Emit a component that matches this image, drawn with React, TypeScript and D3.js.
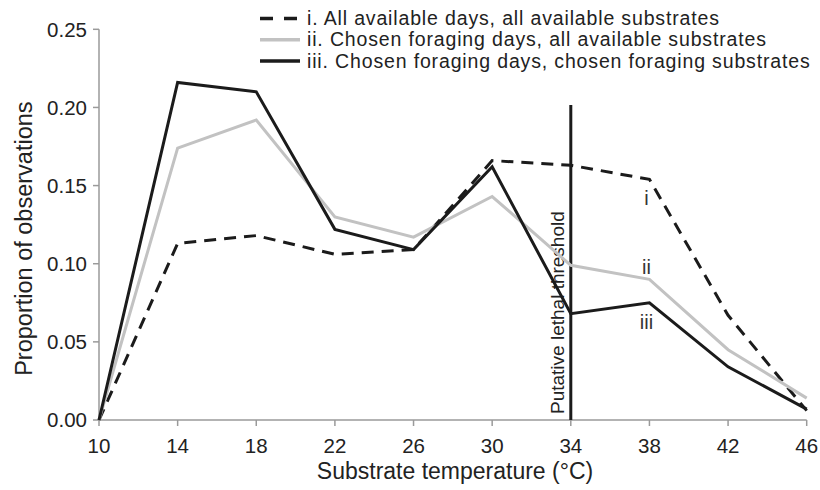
import React from "react";
import * as d3 from "d3";

const temps = [10, 14, 18, 22, 26, 30, 34, 38, 42, 46];
const seriesI = [0, 0.113, 0.118, 0.106, 0.109, 0.166, 0.163, 0.154, 0.067, 0.006];
const seriesII = [0, 0.174, 0.192, 0.130, 0.117, 0.143, 0.099, 0.090, 0.045, 0.014];
const seriesIII = [0, 0.216, 0.21, 0.122, 0.109, 0.162, 0.068, 0.075, 0.034, 0.007];
const yTicks = [0, 0.05, 0.1, 0.15, 0.2, 0.25];
const xTicks = [10, 14, 18, 22, 26, 30, 34, 38, 42, 46];
const legendLabels = [
  "i. All available days, all available substrates",
  "ii. Chosen foraging days, all available substrates",
  "iii. Chosen foraging days, chosen foraging substrates",
];
const endLabels = ["i", "ii", "iii"];
const threshold = 34;
const thresholdLabel = "Putative lethal threshold";

const W = 820;
const H = 490;
const FONT = "'Liberation Sans', Arial, Helvetica, sans-serif";
const AXIS = "#9a9a9a";
const BLACK = "#1b1b1b";
const GREY = "#c2c2c2";

export default function App() {
  const x = d3.scaleLinear().domain([10, 46]).range([99, 806.7]);
  const y = d3.scaleLinear().domain([0, 0.25]).range([420, 29.3]);
  const line = d3
    .line<number>()
    .x((_, i) => x(temps[i]))
    .y((d) => y(d));

  const styles = [
    { data: seriesI, stroke: BLACK, dash: "12,8" },
    { data: seriesII, stroke: GREY, dash: undefined },
    { data: seriesIII, stroke: BLACK, dash: undefined },
  ];

  const labelPos = [
    { v: seriesI[7], dy: 26 },
    { v: seriesII[7], dy: -5 },
    { v: seriesIII[7], dy: 26 },
  ];

  const legendLineY = [18.5, 39.8, 61.1];
  const legendTextY = [25, 46.3, 67.6];

  return (
    <svg
      width={W}
      height={H}
      style={{ position: "absolute", left: 0, top: 0, background: "#fff" }}
      fontFamily={FONT}
    >
      {/* axes */}
      <line x1={x(10)} x2={x(46)} y1={y(0)} y2={y(0)} stroke={AXIS} strokeWidth={1.5} />
      <line x1={x(10)} x2={x(10)} y1={y(0)} y2={y(0.25)} stroke={AXIS} strokeWidth={1.5} />
      {yTicks.map((t) => (
        <g key={"y" + t}>
          <line x1={x(10) - 6} x2={x(10)} y1={y(t)} y2={y(t)} stroke={AXIS} strokeWidth={1.5} />
          <text x={x(10) - 12} y={y(t)} dy="0.36em" textAnchor="end" fontSize={20.5} fill="#222">
            {t.toFixed(2)}
          </text>
        </g>
      ))}
      {xTicks.map((t) => (
        <g key={"x" + t}>
          <line x1={x(t)} x2={x(t)} y1={y(0)} y2={y(0) + 6} stroke={AXIS} strokeWidth={1.5} />
          <text x={x(t)} y={y(0) + 33} textAnchor="middle" fontSize={20.5} fill="#222">
            {t}
          </text>
        </g>
      ))}
      <text x={455} y={479} textAnchor="middle" fontSize={23} fill="#222">
        Substrate temperature (°C)
      </text>
      <text
        transform={`translate(32,${(y(0) + y(0.25)) / 2 + 14}) rotate(-90)`}
        textAnchor="middle"
        fontSize={23.5}
        fill="#222"
      >
        Proportion of observations
      </text>

      {/* threshold */}
      <line x1={x(threshold)} x2={x(threshold)} y1={y(0)} y2={105} stroke={BLACK} strokeWidth={3} />
      <text
        transform={`translate(${x(threshold) - 7},${y(0) - 6}) rotate(-90)`}
        fontSize={19}
        fill="#222"
      >
        {thresholdLabel}
      </text>

      {/* series */}
      {styles.map((s, i) => (
        <path
          key={i}
          d={line(s.data) || ""}
          fill="none"
          stroke={s.stroke}
          strokeWidth={3}
          strokeDasharray={s.dash}
          strokeLinejoin="miter"
        />
      ))}

      {/* end labels */}
      {endLabels.map((l, i) => (
        <text
          key={l}
          x={x(38) - 3}
          y={y(labelPos[i].v) + labelPos[i].dy}
          textAnchor="middle"
          fontSize={20}
          fill="#333"
        >
          {l}
        </text>
      ))}

      {/* legend */}
      {styles.map((s, i) => (
        <g key={"lg" + i}>
          <line
            x1={260}
            x2={300}
            y1={legendLineY[i]}
            y2={legendLineY[i]}
            stroke={s.stroke}
            strokeWidth={3.5}
            strokeDasharray={s.dash ? "13,11" : undefined}
          />
          <text x={307} y={legendTextY[i]} fontSize={19.5} letterSpacing={0.85} fill="#222">
            {legendLabels[i]}
          </text>
        </g>
      ))}
    </svg>
  );
}
